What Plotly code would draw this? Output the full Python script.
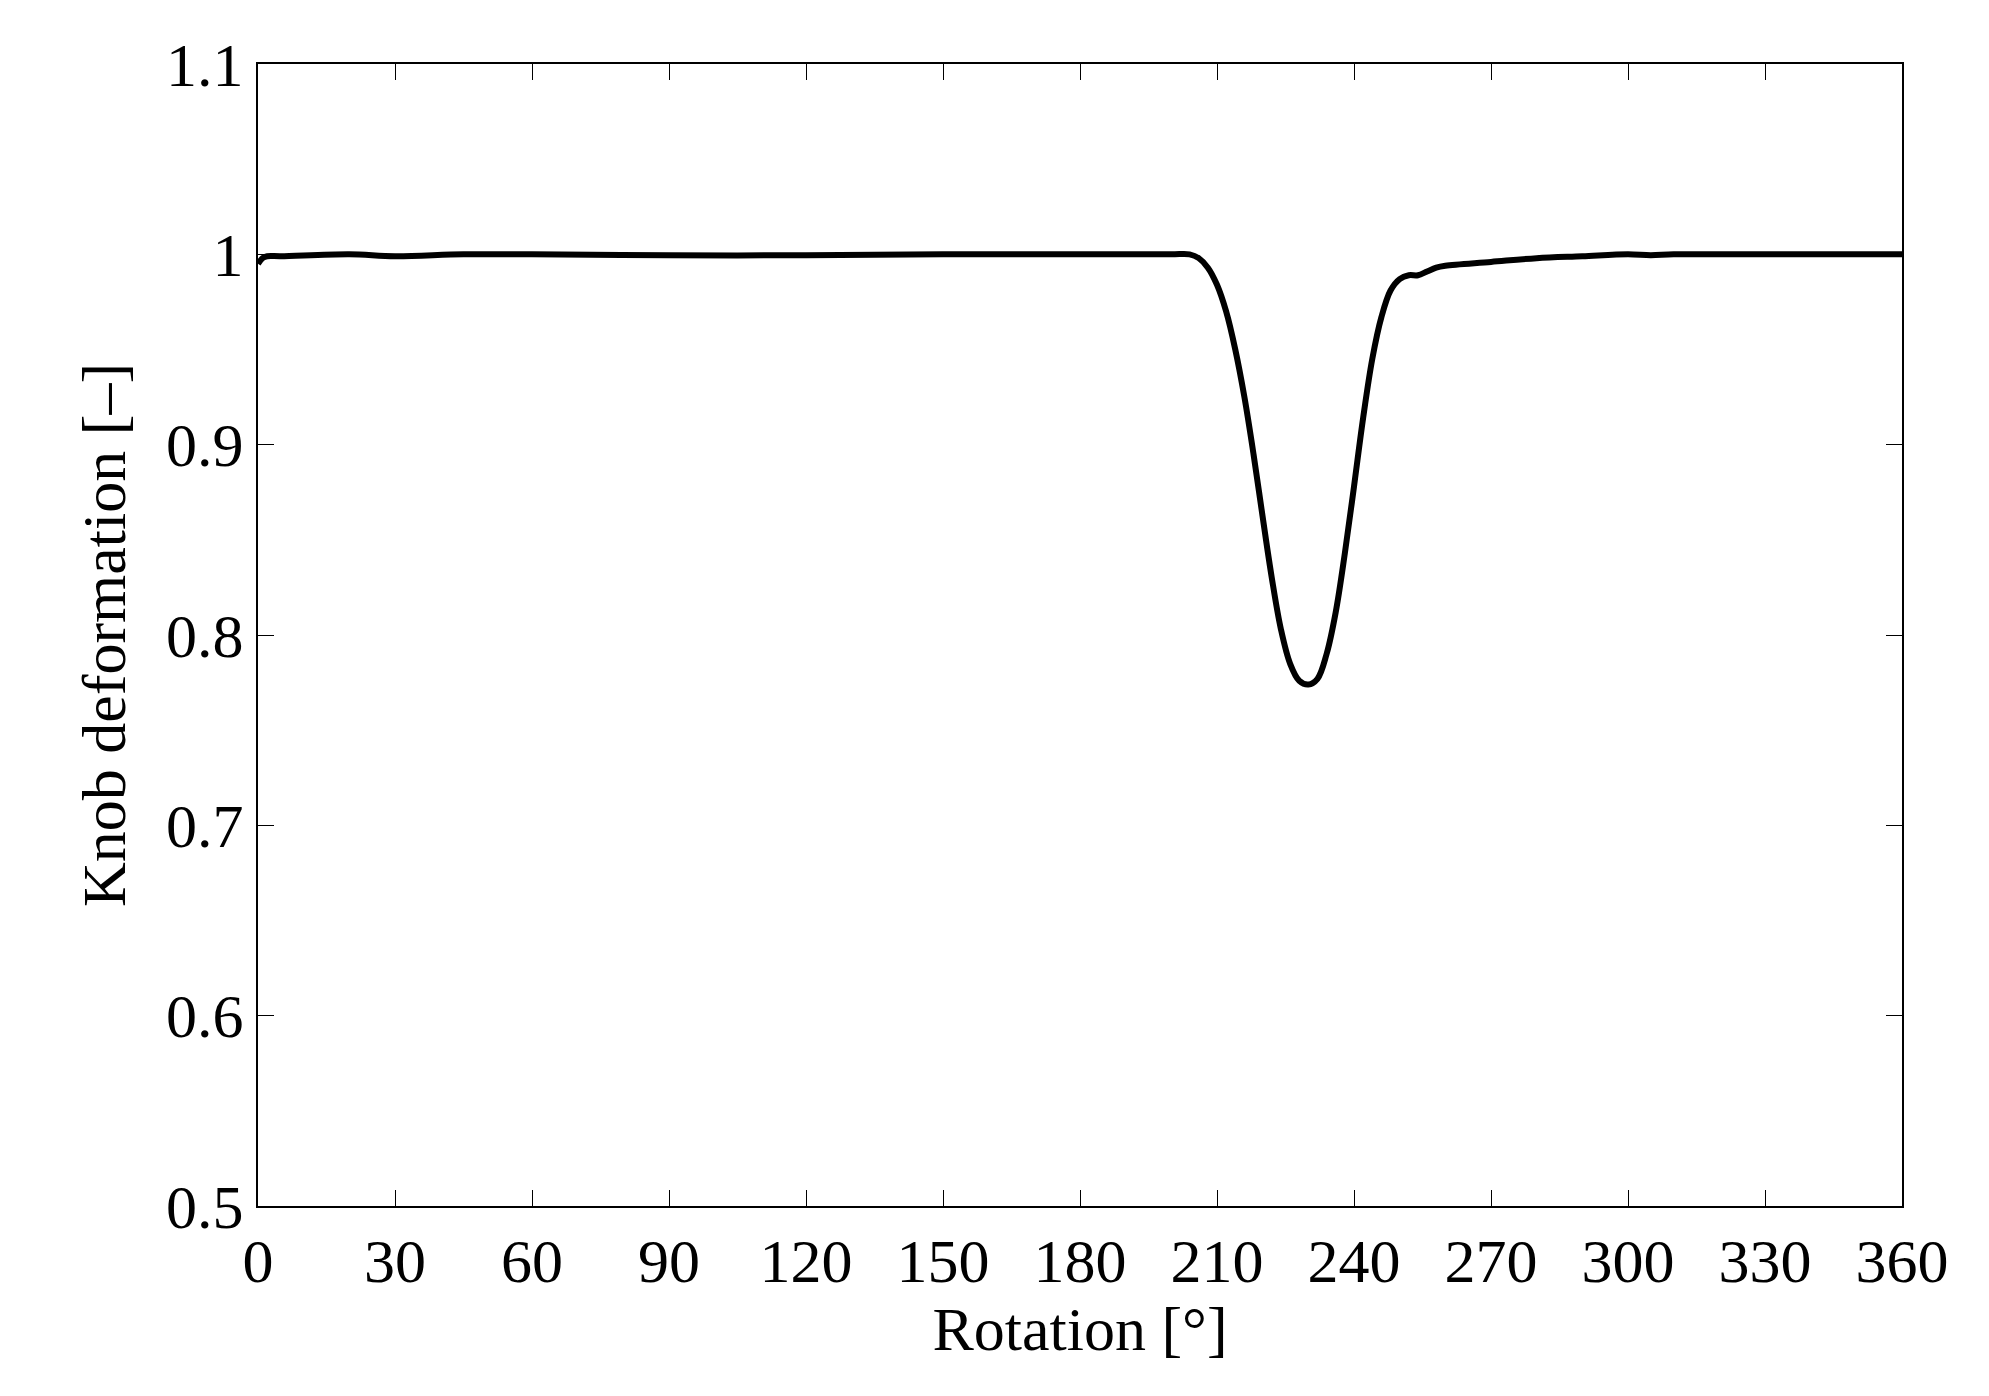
import plotly.graph_objects as go

rotation = [0, 1, 2, 5, 20, 30, 45, 60, 90, 120, 150, 180, 200, 204, 206, 208, 210, 212, 214, 216, 218, 220, 222, 224, 226, 228, 230, 232, 234, 236, 238, 240, 242, 244, 246, 248, 250, 252, 254, 256, 258, 260, 270, 280, 290, 300, 305, 310, 330, 360]
deformation = [0.995, 0.998, 0.999, 0.999, 1.0, 0.999, 1.0, 1.0, 0.9995, 0.9995, 1.0, 1.0, 1.0, 1.0, 0.998, 0.993, 0.984, 0.97, 0.95, 0.925, 0.895, 0.862, 0.83, 0.803, 0.785, 0.776, 0.774, 0.777, 0.79, 0.812, 0.843, 0.878, 0.914, 0.945, 0.967, 0.981, 0.987, 0.989, 0.989, 0.991, 0.993, 0.994, 0.996, 0.998, 0.999, 1.0, 0.9995, 1.0, 1.0, 1.0]

fig = go.Figure(go.Scatter(x=rotation, y=deformation, mode="lines",
                           line=dict(color="black", width=6, shape="spline")))
font = dict(family="Liberation Serif", size=62, color="black")
ax = dict(showline=True, linecolor="black", linewidth=2, mirror="ticks",
          ticks="inside", ticklen=16, tickcolor="black", showgrid=False,
          zeroline=False, tickfont=font)
fig.update_layout(
    width=1989, height=1396, plot_bgcolor="white", paper_bgcolor="white",
    margin=dict(l=250, r=95, t=56, b=198), showlegend=False,
    xaxis=dict(ax, range=[0, 360], tickvals=list(range(0, 361, 30)),
               title=dict(text="Rotation [°]", font=font, standoff=6)),
    yaxis=dict(ax, range=[0.5, 1.1], tickvals=[0.5, 0.6, 0.7, 0.8, 0.9, 1, 1.1],
               ticktext=["0.5", "0.6", "0.7", "0.8", "0.9", "1", "1.1"],
               title=dict(text="Knob deformation [–]", font=font, standoff=20)),
)
fig.write_html("out.html")
